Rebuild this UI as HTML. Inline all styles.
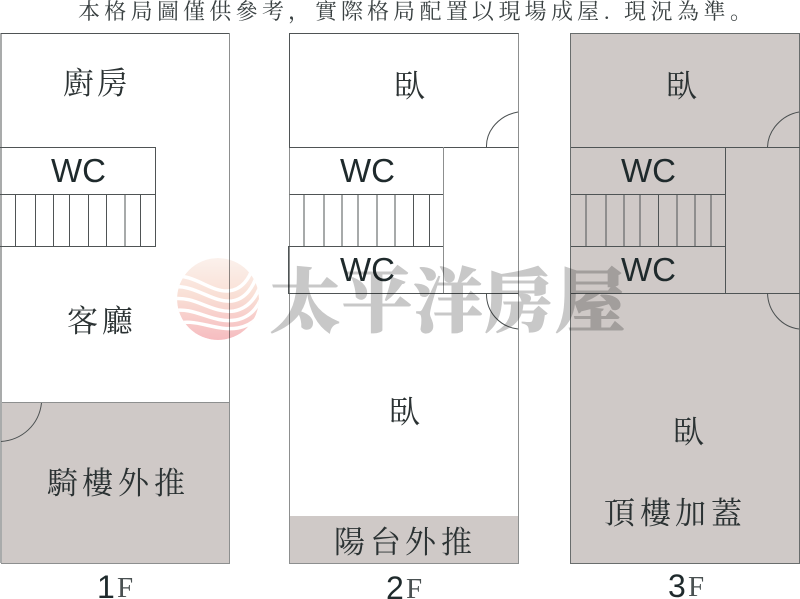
<!DOCTYPE html>
<html><head><meta charset="utf-8"><style>
html,body{margin:0;padding:0;background:#fff}
svg{display:block}
.c{font-family:"Liberation Serif","Noto Serif CJK TC","Noto Serif CJK SC",serif;fill:#2b3233;font-size:31px}
.w{font-family:"Liberation Sans",sans-serif;fill:#1f2a2c;font-size:33px}
.n{font-family:"Liberation Sans",sans-serif;fill:#1f2a2c;font-size:32px}
.f{font-family:"Liberation Serif",serif;fill:#4a5152;font-size:29px}
.t{font-family:"Liberation Serif","Noto Serif CJK TC","Noto Serif CJK SC",serif;fill:#3a4142;font-size:22px}
.p{font-family:"Liberation Serif","Noto Serif CJK SC",serif;fill:#3a4142;font-size:22px}
.l{stroke:#4f5455;stroke-width:1;fill:none}
.g{stroke:#8d8f8f;stroke-width:1;fill:none}
.a{stroke:#4a4f50;stroke-width:1;fill:none}
</style></head><body>
<svg width="800" height="599" viewBox="0 0 800 599" xmlns="http://www.w3.org/2000/svg">
<defs>
<linearGradient id="lg" x1="0" y1="0" x2="0" y2="1">
<stop offset="0" stop-color="#fbf1ec"/><stop offset=".45" stop-color="#f9e0d6"/><stop offset="1" stop-color="#f6bcc0"/>
</linearGradient>
<clipPath id="cc"><circle cx="218" cy="299" r="41"/></clipPath>
</defs>
<rect width="800" height="599" fill="#fff"/>

<!-- title -->
<text class="t" y="19" x="78 104.300 130.600 157 183 209.300 235.600 262">本格局圖僅供參考</text>
<text class="p" y="19" x="288">，</text>
<text class="t" y="19" x="315 341 367 393 419.500 446 472 498.500 524.500 551 577">實際格局配置以現場成屋</text>
<text class="t" y="19" x="604">.</text>
<text class="t" y="19" x="624 650.500 677 703.500">現況為準</text>
<text class="p" y="19" x="730">。</text>

<!-- 1F -->
<rect x="1" y="402" width="228.500" height="161" fill="#cfc9c7"/>
<path class="g" d="M229.500 33.500V563.500H1M1.500 402.500H229.500"/>
<path d="M1 33V563" stroke="#a9abab" stroke-width="2" fill="none"/>
<path class="l" d="M1 33.500H229.500"/>
<path class="l" d="M0 147.500H155.500V246.500H0M0 194.500H155.500"/>
<path class="l" d="M15.500 194V246M35.500 194V246M53.500 194V246M69.500 194V246M88.500 194V246M106.500 194V246M125 194V246M140.500 194V246"/>
<path class="a" d="M41.500 403C39 425 22 440 1 441.500"/>

<!-- 2F -->
<rect x="290" y="516" width="228" height="47" fill="#cfc9c7"/>
<path class="g" d="M289.500 147V563.500H518.500V33"/>
<path class="l" d="M289.500 147V33.500H518.500M289 147.500H518.500M289.500 194.500H443.500M288.500 246.500H443.500M288.500 293.500H518.500M288.500 246V294"/>
<path class="g" d="M443.500 147V293"/>
<path class="l" d="M304 194V246M324 194V246M342 194V246M358 194V246M377 194V246M395 194V246M413.500 194V246M429.500 194V246"/>
<path class="a" d="M518 112C500 115 486 130 486.500 147M486.500 293C486 312 500 327 518 329"/>

<!-- 3F -->
<rect x="571" y="34" width="228.500" height="529" fill="#cfc9c7"/>
<path d="M570.500 33.500H799.500V563.500H570.500Z" stroke="#696d6d" stroke-width="1" fill="none"/>
<path class="l" d="M571 147.500H800M571 194.500H725.500M571 246.500H725.500M571 293.500H800M725.500 147V293"/>
<path class="l" d="M586 194V246M606 194V246M624 194V246M640 194V246M658.500 194V246M677 194V246M695 194V246M711 194V246"/>
<path class="a" d="M799 112C782 115 768 130 767.500 147M767.500 293C768 312 782 327 799 329"/>

<!-- room labels -->
<text class="c" y="94" x="63 97">廚房</text>
<text class="c" y="332" x="67 102">客廳</text>
<text class="c" y="494" x="47 82 118 154">騎樓外推</text>
<text class="c" y="97" x="394">臥</text>
<text class="c" y="423" x="389">臥</text>
<text class="c" y="553" x="334 370 405 441">陽台外推</text>
<text class="c" y="97" x="666">臥</text>
<text class="c" y="443" x="673">臥</text>
<text class="c" y="524" x="604 640 675 711">頂樓加蓋</text>

<text class="w" x="51" y="182">WC</text>
<text class="w" x="340" y="182">WC</text>
<text class="w" x="340" y="281">WC</text>
<text class="w" x="621" y="182">WC</text>
<text class="w" x="621" y="281">WC</text>

<text class="n" x="97" y="598">1</text><text class="f" x="117" y="597">F</text>
<text class="n" x="386" y="599">2</text><text class="f" x="406" y="598">F</text>
<text class="n" x="668" y="597">3</text><text class="f" x="688" y="596">F</text>

<!-- watermark -->
<g style="mix-blend-mode:multiply">
<g clip-path="url(#cc)">
<circle cx="218" cy="299" r="41" fill="url(#lg)"/>
<g fill="none" stroke="#fff" stroke-width="3.500">
<path d="M172 276C195 274 210 292 228 291C242 290 250 278 253 266"/>
<path d="M172 287C195 284 212 303 232 301C246 299 254 286 258 272"/>
<path d="M172 299C195 295 212 314 234 311C250 308 258 295 262 280"/>
<path d="M172 311C195 306 212 324 236 320C252 317 260 305 264 290"/>
<path d="M172 325C195 316 214 332 238 328C254 325 262 315 266 300"/>
</g>
</g>
<text x="270 342 413 484 555" y="326" font-family="'Noto Serif CJK TC','Noto Serif CJK SC',serif" font-weight="900" font-size="70" fill="#c8c8c8" stroke="#c8c8c8" stroke-width="1">太平洋房屋</text>
</g>
</svg>
</body></html>
